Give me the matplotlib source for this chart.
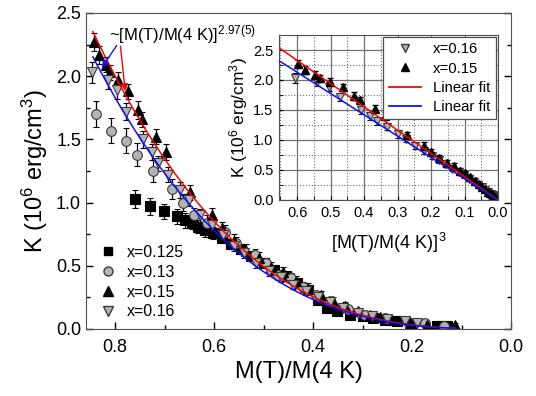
import matplotlib
matplotlib.use("Agg")
import matplotlib.pyplot as plt
from matplotlib.lines import Line2D
from matplotlib.ticker import MultipleLocator
import numpy as np

plt.rcParams["font.family"] = ["Liberation Sans", "DejaVu Sans"]
plt.rcParams["mathtext.fontset"] = "custom"
plt.rcParams["mathtext.rm"] = "Liberation Sans"
plt.rcParams["mathtext.it"] = "Liberation Sans:italic"
plt.rcParams["mathtext.bf"] = "Liberation Sans:bold"

# --- data: M(T)/M(4K), K (10^6 erg/cm^3), error -----------------------------
m_125 = [0.760, 0.729, 0.701, 0.675, 0.659, 0.645, 0.632, 0.618, 0.602, 0.585,
         0.565, 0.545, 0.525, 0.500, 0.478, 0.455, 0.432, 0.410, 0.390, 0.372,
         0.352, 0.325, 0.300, 0.279, 0.255, 0.230, 0.200, 0.150, 0.140, 0.130]
k_125 = [1.03, 0.97, 0.93, 0.89, 0.86, 0.84, 0.81, 0.78, 0.76, 0.72,
         0.67, 0.63, 0.58, 0.52, 0.47, 0.42, 0.36, 0.31, 0.23, 0.17,
         0.14, 0.11, 0.10, 0.09, 0.07, 0.06, 0.04, 0.02, 0.02, 0.02]
e_125 = [0.07, 0.07, 0.06, 0.06, 0.06, 0.05, 0.05, 0.05, 0.05, 0.04,
         0.04, 0.04, 0.04, 0.04, 0.03, 0.03, 0.03, 0.03, 0.03, 0.02,
         0.02, 0.02, 0.02, 0.02, 0.02, 0.02, 0.02, 0.01, 0.01, 0.01]

m_13 = [0.838, 0.808, 0.778, 0.756, 0.723, 0.685, 0.663, 0.640, 0.615, 0.578,
        0.555, 0.517, 0.495, 0.471, 0.445, 0.420, 0.395, 0.365, 0.330, 0.295,
        0.255, 0.210, 0.174, 0.135]
k_13 = [1.70, 1.57, 1.49, 1.38, 1.25, 1.11, 1.00, 0.90, 0.84, 0.77,
        0.68, 0.585, 0.52, 0.43, 0.40, 0.33, 0.27, 0.22, 0.16, 0.11,
        0.09, 0.06, 0.05, 0.02]
e_13 = [0.10, 0.10, 0.10, 0.09, 0.09, 0.08, 0.07, 0.06, 0.06, 0.05,
        0.05, 0.05, 0.04, 0.04, 0.04, 0.04, 0.03, 0.03, 0.03, 0.03,
        0.02, 0.02, 0.02, 0.02]

m_15 = [0.842, 0.832, 0.818, 0.810, 0.794, 0.774, 0.754, 0.745, 0.717, 0.697,
        0.648, 0.604, 0.585, 0.560, 0.535, 0.510, 0.485, 0.460, 0.435, 0.410,
        0.385, 0.360, 0.335, 0.310, 0.285, 0.265, 0.240, 0.205, 0.170, 0.113]
k_15 = [2.27, 2.17, 2.09, 2.03, 1.97, 1.88, 1.73, 1.66, 1.52, 1.40,
        1.08, 0.90, 0.80, 0.70, 0.62, 0.56, 0.49, 0.45, 0.38, 0.32,
        0.27, 0.22, 0.18, 0.14, 0.11, 0.095, 0.07, 0.05, 0.035, 0.03]
e_15 = [0.07, 0.07, 0.06, 0.06, 0.06, 0.06, 0.07, 0.06, 0.06, 0.06,
        0.06, 0.06, 0.05, 0.05, 0.05, 0.05, 0.04, 0.04, 0.04, 0.04,
        0.03, 0.03, 0.03, 0.03, 0.03, 0.02, 0.02, 0.02, 0.02, 0.02]

m_16 = [0.846, 0.814, 0.796, 0.778, 0.743, 0.725, 0.713, 0.693, 0.669, 0.650,
        0.628, 0.605, 0.582, 0.560, 0.540, 0.515, 0.490, 0.465, 0.440, 0.415,
        0.390, 0.365, 0.340, 0.310, 0.280, 0.250, 0.215, 0.190]
k_16 = [2.03, 1.97, 1.89, 1.72, 1.50, 1.40, 1.31, 1.22, 1.10, 1.02,
        0.90, 0.82, 0.74, 0.66, 0.60, 0.52, 0.46, 0.41, 0.35, 0.30,
        0.25, 0.21, 0.17, 0.13, 0.10, 0.08, 0.06, 0.05]
e_16 = [0.08, 0.07, 0.07, 0.07, 0.07, 0.06, 0.06, 0.06, 0.06, 0.05,
        0.05, 0.05, 0.05, 0.04, 0.04, 0.04, 0.04, 0.04, 0.03, 0.03,
        0.03, 0.03, 0.03, 0.02, 0.02, 0.02, 0.02, 0.02]

# fits: K = A * m^p  (main), K = A * m^3 (inset, linear in m^3)
A_RED, A_BLUE = 3.88, 3.55
P_FIT = 2.97
FIT_M = (0.112, 0.845)

GRAY = "#b4b4b4"
EDGE = "#3a3a3a"
BLUE = "#1010ff"

fig = plt.figure(figsize=(5.36, 3.96), dpi=100)
ax = fig.add_axes([0.1604, 0.1692, 0.793, 0.798])


def series(a, x, y, err, marker, fc, ms):
    a.errorbar(x, y, yerr=err, fmt=marker, ms=ms, mfc=fc, mec=EDGE if fc != "k" else "k",
               mew=0.8, ecolor="k", elinewidth=0.9, capsize=2.5, capthick=0.9, zorder=2)


series(ax, m_125, k_125, e_125, "s", "k", 6.5)
series(ax, m_13, k_13, e_13, "o", GRAY, 7)
series(ax, m_15, k_15, e_15, "^", "k", 7)
series(ax, m_16, k_16, e_16, "v", GRAY, 7.5)

mm = np.linspace(FIT_M[0], FIT_M[1], 200)
ax.plot(mm, A_RED * mm ** P_FIT, color="red", lw=1.1, zorder=3)
ax.plot(mm, A_BLUE * mm ** P_FIT, color=BLUE, lw=1.1, zorder=3)

ax.text(0.813, 2.28, r"~[M(T)/M(4 K)]$^{2.97(5)}$", fontsize=12, va="baseline")
ax.annotate("", xy=(0.779, 1.86), xytext=(0.790, 2.26),
            arrowprops=dict(arrowstyle="-|>", color="red", lw=1, mutation_scale=10))
ax.annotate("", xy=(0.830, 2.05), xytext=(0.794, 2.26),
            arrowprops=dict(arrowstyle="-|>", color=BLUE, lw=1, mutation_scale=10))

ax.set_xlim(0.859, 0.0)
ax.set_ylim(0, 2.5)
ax.xaxis.set_major_locator(MultipleLocator(0.2))
ax.xaxis.set_minor_locator(MultipleLocator(0.1))
ax.yaxis.set_major_locator(MultipleLocator(0.5))
ax.yaxis.set_minor_locator(MultipleLocator(0.25))
ax.tick_params(which="both", direction="in", right=True, labelsize=13)
ax.tick_params(which="major", length=5, width=1)
ax.tick_params(which="minor", length=3, width=1)
ax.tick_params(axis="x", pad=7)
ax.set_xlabel("M(T)/M(4 K)", fontsize=17)
ax.set_ylabel(r"K (10$^{6}$ erg/cm$^{3}$)", fontsize=17, labelpad=4)
for s in ax.spines.values():
    s.set_color("#505050")

leg_handles = [
    Line2D([], [], ls="", marker="s", ms=6, mfc="k", mec="k"),
    Line2D([], [], ls="", marker="o", ms=6.5, mfc=GRAY, mec=EDGE),
    Line2D([], [], ls="", marker="^", ms=6.5, mfc="k", mec="k"),
    Line2D([], [], ls="", marker="v", ms=6.5, mfc=GRAY, mec=EDGE),
]
ax.legend(leg_handles, ["x=0.125", "x=0.13", "x=0.15", "x=0.16"], loc="lower left",
          bbox_to_anchor=(-0.005, -0.015), frameon=False, fontsize=11.5,
          handletextpad=0.6, labelspacing=0.3, handlelength=1.2)

# --- inset: K vs [M(T)/M(4K)]^3 --------------------------------------------
ins = fig.add_axes([0.5205, 0.495, 0.4086, 0.4166])
ins.errorbar(np.array(m_16) ** 3, k_16, yerr=e_16, fmt="v", ms=6, mfc=GRAY, mec=EDGE,
             mew=0.8, ecolor="k", elinewidth=0.8, capsize=2, zorder=2)
ins.errorbar(np.array(m_15) ** 3, k_15, yerr=e_15, fmt="^", ms=6, mfc="k", mec="k",
             ecolor="k", elinewidth=0.8, capsize=2, zorder=2)
xl = np.array([0.0, 0.654])
ins.plot(xl, A_RED * xl, color="red", lw=1.1, zorder=3)
ins.plot(xl, A_BLUE * xl, color=BLUE, lw=1.1, zorder=3)
ins.set_xlim(0.654, 0.0)
ins.set_ylim(0, 2.75)
ins.xaxis.set_major_locator(MultipleLocator(0.1))
ins.xaxis.set_minor_locator(MultipleLocator(0.05))
ins.yaxis.set_major_locator(MultipleLocator(0.5))
ins.yaxis.set_minor_locator(MultipleLocator(0.25))
ins.grid(which="major", color="#707070", lw=0.9, ls="-")
ins.grid(which="minor", color="#707070", lw=0.8, ls=":")
ins.set_axisbelow(True)
ins.tick_params(which="both", direction="in", labelsize=10.5, length=3, pad=4)
ins.set_xlabel(r"[M(T)/M(4 K)]$^{3}$", fontsize=13, labelpad=8)
ins.set_ylabel(r"K (10$^{6}$ erg/cm$^{3}$)", fontsize=12.5, labelpad=2)
for s in ins.spines.values():
    s.set_color("#505050")

in_handles = [
    Line2D([], [], ls="", marker="v", ms=6, mfc=GRAY, mec=EDGE),
    Line2D([], [], ls="", marker="^", ms=6, mfc="k", mec="k"),
    Line2D([], [], color="red", lw=1.3),
    Line2D([], [], color=BLUE, lw=1.3),
]
lg = ins.legend(in_handles, ["x=0.16", "x=0.15", "Linear fit", "Linear fit"],
                loc="upper right", fontsize=10.7, fancybox=False, framealpha=1,
                edgecolor="#505050", borderpad=0.35, labelspacing=0.35,
                handlelength=2.2, handletextpad=0.8, borderaxespad=0.15)
lg.get_frame().set_linewidth(0.9)

fig.savefig("out.png", dpi=100)
